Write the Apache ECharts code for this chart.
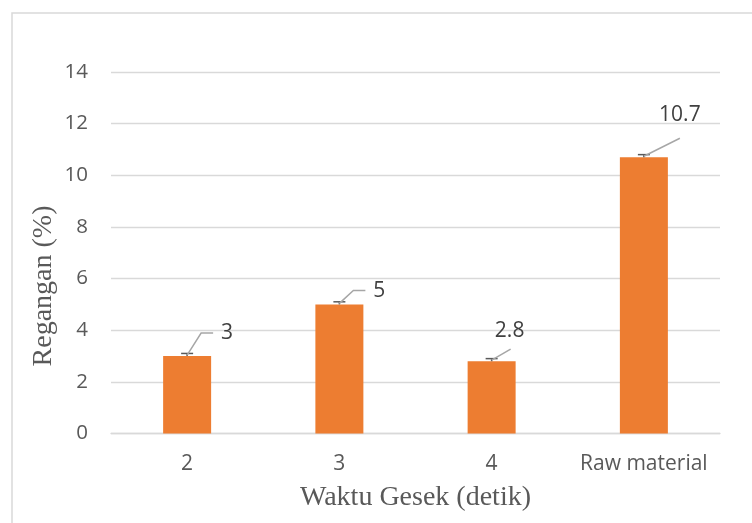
<!DOCTYPE html>
<html>
<head>
<meta charset="utf-8">
<script src="https://cdn.jsdelivr.net/npm/echarts@6/dist/echarts.min.js"></script>
<style>
  html, body { margin: 0; padding: 0; background: #fff; }
  #chart { width: 752px; height: 523px; }
</style>
</head>
<body>
<div id="chart"></div>
<script>
// Strain (%) for each friction time
var categories = ['2', '3', '4', 'Raw material'];
var strainValues = [3, 5, 2.8, 10.7];
var strainErrors = [0.1, 0.1, 0.1, 0.1];
var yTicks = { min: 0, max: 14, step: 2 };

// Leader-line geometry for each data label, in pixels relative to the bar top
var leaderBends = [[14, -23], [14, -14], [19, -12], [36, -19]];
var leaderEnds = [[26, -23], [26, -14], [19, -12], [36, -19]];
var labelCenters = [[40, -23], [40, -13], [18, -30], [36, -42]];

var SANS = '"Open Sans", "Noto Sans", sans-serif';
var SERIF = '"Liberation Serif", "Times New Roman", serif';
var GRID_COLOR = '#D9D9D9';

var chart = echarts.init(document.getElementById('chart'), null, { renderer: 'canvas' });

var option = {
  animation: false,
  backgroundColor: '#ffffff',
  grid: { left: 111, right: 32, top: 72, bottom: 89.5, containLabel: false },
  graphic: [
    {
      type: 'rect',
      shape: { x: 12, y: 13, width: 800, height: 600 },
      style: { fill: 'none', stroke: GRID_COLOR, lineWidth: 1.5 },
      silent: true, z: -1
    },
    {
      type: 'text',
      x: 44, y: 286,
      rotation: Math.PI / 2,
      style: {
        text: 'Regangan (%)',
        font: '28px ' + SERIF,
        fill: '#595959',
        align: 'center',
        verticalAlign: 'middle'
      }
    }
  ],
  xAxis: {
    type: 'category',
    data: categories,
    axisLine: { show: true, lineStyle: { color: GRID_COLOR, width: 1.3 } },
    axisTick: { show: false },
    axisLabel: { color: '#595959', fontFamily: SANS, fontSize: 21, margin: 20, interval: 0, hideOverlap: false },
    name: 'Waktu Gesek (detik)',
    nameLocation: 'middle',
    nameGap: 50,
    nameTextStyle: { color: '#595959', fontFamily: SERIF, fontSize: 28 }
  },
  yAxis: {
    type: 'value',
    min: yTicks.min,
    max: yTicks.max,
    interval: yTicks.step,
    axisLine: { show: false },
    axisTick: { show: false },
    splitLine: { lineStyle: { color: GRID_COLOR, width: 1.3 } },
    axisLabel: { color: '#595959', fontFamily: SANS, fontSize: 20.5, margin: 23 }
  },
  series: [
    {
      name: 'Regangan',
      type: 'bar',
      data: strainValues,
      barWidth: 48,
      itemStyle: { color: '#ED7D31' },
      z: 2
    },
    {
      // plus-direction error bars
      name: 'error',
      type: 'custom',
      z: 3,
      data: strainValues.map(function (v, i) { return [i, v, strainErrors[i]]; }),
      renderItem: function (params, api) {
        var i = api.value(0), v = api.value(1), e = api.value(2);
        var base = api.coord([i, v]);
        var top = api.coord([i, v + e]);
        var cap = 6;
        var st = { stroke: '#595959', lineWidth: 1.5 };
        return {
          type: 'group',
          children: [
            { type: 'line', shape: { x1: base[0], y1: base[1], x2: top[0], y2: top[1] }, style: st },
            { type: 'line', shape: { x1: top[0] - cap, y1: top[1], x2: top[0] + cap, y2: top[1] }, style: st }
          ]
        };
      }
    },
    {
      // data labels with leader lines
      name: 'labels',
      type: 'custom',
      z: 4,
      data: strainValues.map(function (v, i) { return [i, v]; }),
      renderItem: function (params, api) {
        var i = api.value(0), v = api.value(1);
        var p = api.coord([i, v]);
        var b = leaderBends[params.dataIndex];
        var e = leaderEnds[params.dataIndex];
        var c = labelCenters[params.dataIndex];
        return {
          type: 'group',
          children: [
            {
              type: 'polyline',
              shape: { points: [[p[0], p[1] - 1], [p[0] + b[0], p[1] + b[1]], [p[0] + e[0], p[1] + e[1]]] },
              style: { stroke: '#A6A6A6', lineWidth: 1.5, fill: null }
            },
            {
              type: 'text',
              x: p[0] + c[0], y: p[1] + c[1],
              style: {
                text: String(strainValues[params.dataIndex]),
                font: '21px ' + SANS,
                fill: '#404040',
                align: 'center',
                verticalAlign: 'middle'
              }
            }
          ]
        };
      }
    }
  ]
};

chart.setOption(option);
</script>
</body>
</html>
